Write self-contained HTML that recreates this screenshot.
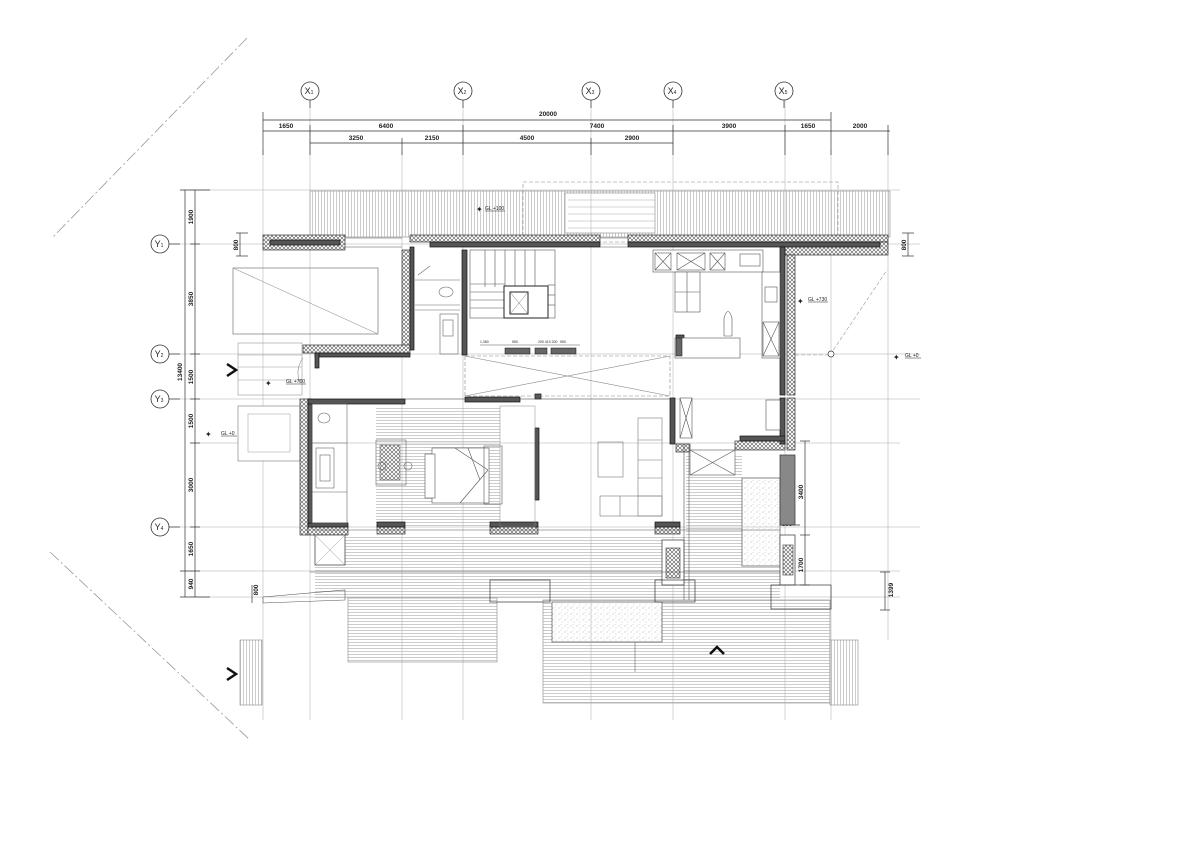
<!DOCTYPE html>
<html><head><meta charset="utf-8"><style>
html,body{margin:0;padding:0;background:#fff;}
svg{display:block;font-family:"Liberation Sans",sans-serif;}
</style></head><body>
<svg width="1191" height="842" viewBox="0 0 1191 842" xmlns="http://www.w3.org/2000/svg">
<defs>
<pattern id="ins" width="4" height="4" patternUnits="userSpaceOnUse"><rect width="4" height="4" fill="#fff"/><path d="M0 0L4 4M4 0L0 4" stroke="#555" stroke-width="0.6"/></pattern>
<pattern id="hs" width="4" height="3" patternUnits="userSpaceOnUse"><rect width="4" height="3" fill="#fff"/><line x1="0" y1="0.5" x2="4" y2="0.5" stroke="#aaa" stroke-width="0.6"/></pattern>
<pattern id="vs" width="3" height="4" patternUnits="userSpaceOnUse"><rect width="3" height="4" fill="#fff"/><line x1="0.5" y1="0" x2="0.5" y2="4" stroke="#aaa" stroke-width="0.6"/></pattern>
<pattern id="sp" width="6" height="6" patternUnits="userSpaceOnUse"><rect width="6" height="6" fill="#fff"/><circle cx="1" cy="2" r="0.5" fill="#999"/><circle cx="4" cy="4" r="0.5" fill="#bbb"/><circle cx="3" cy="0.8" r="0.4" fill="#aaa"/></pattern>
</defs>
<rect width="1191" height="842" fill="#fff"/>

<!-- diagonal site lines -->
<g stroke="#999" stroke-width="0.8" stroke-dasharray="12,3,2,3" fill="none">
<line x1="247" y1="38" x2="52" y2="238"/>
<line x1="50" y1="552" x2="250" y2="740"/>
</g>

<!-- hatched floor areas -->
<rect x="310" y="191" width="580" height="46" fill="url(#vs)"/>
<rect x="565" y="193" width="90" height="40" fill="#fff" stroke="#888" stroke-width="0.6"/>
<g stroke="#aaa" stroke-width="0.6"><line x1="568" y1="200" x2="655" y2="200"/><line x1="568" y1="207" x2="655" y2="207"/><line x1="568" y1="214" x2="655" y2="214"/><line x1="568" y1="221" x2="655" y2="221"/><line x1="568" y1="228" x2="655" y2="228"/></g>
<rect x="310" y="191" width="580" height="46" fill="none" stroke="#888" stroke-width="0.6"/>
<rect x="523" y="182" width="315" height="60" fill="none" stroke="#888" stroke-width="0.6" stroke-dasharray="4,2"/>

<rect x="376" y="406" width="124" height="121" fill="url(#hs)"/>
<rect x="315" y="535" width="465" height="63" fill="url(#hs)"/>
<rect x="686" y="455" width="56" height="80" fill="url(#hs)"/>
<rect x="348" y="598" width="149" height="64" fill="url(#hs)" stroke="#888" stroke-width="0.6"/>
<rect x="543" y="600" width="287" height="103" fill="url(#hs)" stroke="#888" stroke-width="0.6"/>
<rect x="830" y="640" width="28" height="65" fill="url(#vs)" stroke="#888" stroke-width="0.6"/>
<rect x="240" y="640" width="22" height="65" fill="url(#vs)" stroke="#888" stroke-width="0.6"/>
<rect x="742" y="478" width="38" height="88" fill="url(#sp)" stroke="#666" stroke-width="0.8"/>
<rect x="552" y="602" width="110" height="40" fill="url(#sp)" stroke="#666" stroke-width="0.8"/>
<line x1="635" y1="642" x2="635" y2="672" stroke="#666" stroke-width="0.6"/>

<!-- grid lines -->
<g stroke="#aaa" stroke-width="0.5">
<line x1="310" y1="100" x2="310" y2="720"/><line x1="463" y1="100" x2="463" y2="720"/><line x1="591" y1="100" x2="591" y2="720"/><line x1="673" y1="100" x2="673" y2="720"/><line x1="785" y1="100" x2="785" y2="720"/>
<line x1="263" y1="150" x2="263" y2="720"/><line x1="402" y1="150" x2="402" y2="720"/><line x1="831" y1="150" x2="831" y2="720"/><line x1="888" y1="150" x2="888" y2="640"/>
<line x1="170" y1="244" x2="920" y2="244"/><line x1="170" y1="354" x2="920" y2="354"/><line x1="170" y1="399" x2="920" y2="399"/><line x1="170" y1="527" x2="920" y2="527"/>
<line x1="190" y1="190" x2="900" y2="190"/><line x1="190" y1="443" x2="900" y2="443"/><line x1="190" y1="571" x2="900" y2="571"/><line x1="190" y1="597" x2="900" y2="597"/>
</g>

<!-- grid bubbles -->
<g fill="#fff" stroke="#333" stroke-width="0.8" font-size="9" text-anchor="middle">
<circle cx="310" cy="91" r="9"/><circle cx="463" cy="91" r="9"/><circle cx="591" cy="91" r="9"/><circle cx="673" cy="91" r="9"/><circle cx="784" cy="91" r="9"/>
<circle cx="160" cy="244" r="9"/><circle cx="160" cy="354" r="9"/><circle cx="160" cy="399" r="9"/><circle cx="160" cy="527" r="9"/>
</g>
<g font-size="9" fill="#222" text-anchor="middle">
<text x="309" y="94">X<tspan font-size="5">1</tspan></text><text x="462" y="94">X<tspan font-size="5">2</tspan></text><text x="590" y="94">X<tspan font-size="5">3</tspan></text><text x="672" y="94">X<tspan font-size="5">4</tspan></text><text x="783" y="94">X<tspan font-size="5">5</tspan></text>
<text x="159" y="247">Y<tspan font-size="5">1</tspan></text><text x="159" y="357">Y<tspan font-size="5">2</tspan></text><text x="159" y="402">Y<tspan font-size="5">3</tspan></text><text x="159" y="530">Y<tspan font-size="5">4</tspan></text>
</g>
<g stroke="#333" stroke-width="0.7"><line x1="169" y1="244" x2="180" y2="244"/><line x1="169" y1="354" x2="180" y2="354"/><line x1="169" y1="399" x2="180" y2="399"/><line x1="169" y1="527" x2="180" y2="527"/></g>

<!-- top dimensions -->
<g stroke="#333" stroke-width="0.7">
<line x1="263" y1="120" x2="831" y2="120"/>
<line x1="263" y1="131" x2="890" y2="131"/>
<line x1="310" y1="143" x2="673" y2="143"/>
<line x1="263" y1="112" x2="263" y2="155"/><line x1="831" y1="112" x2="831" y2="155"/>
<line x1="310" y1="125" x2="310" y2="155"/><line x1="463" y1="125" x2="463" y2="155"/><line x1="673" y1="125" x2="673" y2="155"/><line x1="785" y1="125" x2="785" y2="155"/><line x1="888" y1="125" x2="888" y2="155"/>
<line x1="402" y1="138" x2="402" y2="155"/><line x1="591" y1="138" x2="591" y2="155"/>
<line x1="310" y1="100" x2="310" y2="108"/><line x1="463" y1="100" x2="463" y2="108"/><line x1="591" y1="100" x2="591" y2="108"/><line x1="673" y1="100" x2="673" y2="108"/><line x1="784" y1="100" x2="784" y2="108"/>
</g>
<g font-size="6.5" fill="#222" text-anchor="middle" font-weight="bold">
<text x="548" y="116">20000</text>
<text x="286" y="128">1650</text><text x="386" y="128">6400</text><text x="597" y="128">7400</text><text x="729" y="128">3900</text><text x="808" y="128">1650</text><text x="860" y="128">2000</text>
<text x="356" y="140">3250</text><text x="432" y="140">2150</text><text x="527" y="140">4500</text><text x="632" y="140">2900</text>
</g>

<!-- left dimensions -->
<g stroke="#333" stroke-width="0.7">
<line x1="185" y1="190" x2="185" y2="597"/><line x1="195" y1="190" x2="195" y2="597"/>
<line x1="180" y1="190" x2="210" y2="190"/><line x1="180" y1="597" x2="210" y2="597"/>
<line x1="190" y1="244" x2="200" y2="244"/><line x1="190" y1="354" x2="200" y2="354"/><line x1="190" y1="399" x2="200" y2="399"/><line x1="190" y1="443" x2="200" y2="443"/><line x1="190" y1="527" x2="200" y2="527"/><line x1="180" y1="571" x2="200" y2="571"/>
<line x1="240" y1="233" x2="240" y2="256"/><line x1="236" y1="233" x2="248" y2="233"/><line x1="236" y1="256" x2="248" y2="256"/>
<line x1="252" y1="585" x2="252" y2="603"/>
</g>
<g font-size="6.5" fill="#222" text-anchor="middle" font-weight="bold">
<text transform="translate(193,217) rotate(-90)">1900</text>
<text transform="translate(193,299) rotate(-90)">3850</text>
<text transform="translate(193,377) rotate(-90)">1500</text>
<text transform="translate(193,421) rotate(-90)">1500</text>
<text transform="translate(193,485) rotate(-90)">3000</text>
<text transform="translate(193,549) rotate(-90)">1650</text>
<text transform="translate(193,584) rotate(-90)">940</text>
<text transform="translate(182,372) rotate(-90)">13400</text>
<text transform="translate(238,245) rotate(-90)">800</text>
<text transform="translate(258,590) rotate(-90)">800</text>
</g>

<!-- right dimensions -->
<g stroke="#333" stroke-width="0.7">
<line x1="908" y1="233" x2="908" y2="256"/><line x1="902" y1="233" x2="914" y2="233"/><line x1="902" y1="256" x2="914" y2="256"/>
<line x1="805" y1="441" x2="805" y2="585"/><line x1="800" y1="441" x2="810" y2="441"/><line x1="800" y1="535" x2="810" y2="535"/><line x1="800" y1="585" x2="810" y2="585"/>
<line x1="780" y1="525" x2="800" y2="525"/>
<line x1="885" y1="572" x2="885" y2="610"/><line x1="880" y1="572" x2="890" y2="572"/><line x1="880" y1="610" x2="890" y2="610"/>
</g>
<g font-size="6.5" fill="#222" text-anchor="middle" font-weight="bold">
<text transform="translate(906,245) rotate(-90)">800</text>
<text transform="translate(803,492) rotate(-90)">3400</text>
<text x="787" y="526">600</text>
<text transform="translate(803,565) rotate(-90)">1700</text>
<text transform="translate(893,590) rotate(-90)">1399</text>
</g>

<!-- left-side exterior elements -->
<rect x="233" y="268" width="145" height="66" fill="none" stroke="#777" stroke-width="0.7"/>
<line x1="233" y1="268" x2="378" y2="334" stroke="#999" stroke-width="0.6"/>
<g stroke="#999" stroke-width="0.6"><rect x="238" y="343" width="64" height="52" fill="none"/><line x1="238" y1="355" x2="302" y2="355"/><line x1="238" y1="367" x2="302" y2="367"/><line x1="238" y1="380" x2="302" y2="380"/></g>
<rect x="238" y="406" width="62" height="55" fill="#fff" stroke="#888" stroke-width="0.7"/>
<rect x="248" y="414" width="42" height="38" fill="none" stroke="#aaa" stroke-width="0.6"/>
<path d="M300 383 A 25 25 0 0 1 303 358" fill="none" stroke="#888" stroke-width="0.6"/>
<path d="M227 364 L236 370 L227 376" fill="none" stroke="#111" stroke-width="2.5"/>
<path d="M227 668 L236 674 L227 680" fill="none" stroke="#111" stroke-width="2.5"/>
<path d="M710 654 L717 647 L724 654" fill="none" stroke="#111" stroke-width="2.5"/>

<!-- level marks -->
<g font-size="5" fill="#222">
<text x="485" y="210">GL +100</text><line x1="485" y1="211" x2="505" y2="211" stroke="#222" stroke-width="0.5"/><text x="476" y="212" font-size="8">✦</text>
<text x="286" y="383">GL +700</text><line x1="286" y1="384" x2="306" y2="384" stroke="#222" stroke-width="0.5"/><text x="265" y="386" font-size="8">✦</text>
<text x="221" y="435">GL +0</text><line x1="221" y1="436" x2="237" y2="436" stroke="#222" stroke-width="0.5"/><text x="205" y="437" font-size="8">✦</text>
<text x="808" y="301">GL +730</text><line x1="808" y1="302" x2="828" y2="302" stroke="#222" stroke-width="0.5"/><text x="797" y="304" font-size="8">✦</text>
<text x="905" y="357">GL +0</text><line x1="905" y1="358" x2="921" y2="358" stroke="#222" stroke-width="0.5"/><text x="893" y="360" font-size="8">✦</text>
</g>
<path d="M830 355 L887 270" stroke="#999" stroke-width="0.6" stroke-dasharray="4,2" fill="none"/>
<line x1="795" y1="355" x2="830" y2="355" stroke="#999" stroke-width="0.6" stroke-dasharray="4,2"/>
<circle cx="831" cy="354" r="3" fill="#fff" stroke="#333" stroke-width="0.7"/>

<!-- walls: insulation bands -->
<g stroke="#333" stroke-width="0.7" fill="url(#ins)">
<rect x="263" y="235" width="82" height="15"/>
<rect x="410" y="235" width="190" height="7"/>
<rect x="628" y="235" width="260" height="7"/>
<rect x="785" y="242" width="103" height="13"/>
<rect x="402" y="250" width="8" height="100"/>
<rect x="303" y="345" width="107" height="8"/>
<rect x="300" y="399" width="8" height="136"/>
<rect x="308" y="527" width="40" height="8"/>
<rect x="377" y="527" width="28" height="7"/>
<rect x="490" y="527" width="48" height="7"/>
<rect x="655" y="527" width="25" height="7"/>
<rect x="787" y="255" width="8" height="140"/>
<rect x="787" y="398" width="8" height="52"/>
<rect x="735" y="441" width="50" height="9"/>
<rect x="676" y="444" width="14" height="8"/>
</g>
<!-- dark wall cores -->
<g fill="#555" stroke="#111" stroke-width="0.7">
<rect x="270" y="240" width="70" height="5"/>
<rect x="430" y="242" width="170" height="5"/>
<rect x="628" y="242" width="252" height="5"/>
<rect x="410" y="247" width="4" height="103"/>
<rect x="315" y="353" width="95" height="4"/>
<rect x="315" y="353" width="4" height="15"/>
<rect x="462" y="250" width="5" height="105"/>
<rect x="308" y="399" width="4" height="128"/>
<rect x="308" y="399" width="97" height="5"/>
<rect x="308" y="523" width="40" height="4"/>
<rect x="377" y="522" width="28" height="5"/>
<rect x="490" y="522" width="48" height="5"/>
<rect x="655" y="522" width="25" height="5"/>
<rect x="465" y="397" width="55" height="5"/>
<rect x="535" y="428" width="4" height="72"/>
<rect x="780" y="247" width="5" height="148"/>
<rect x="780" y="398" width="5" height="46"/>
<rect x="740" y="436" width="45" height="5"/>
<rect x="670" y="398" width="5" height="46"/>
<rect x="676" y="335" width="8" height="20"/>
<rect x="535" y="394" width="6" height="5"/>
</g>
<rect x="780" y="455" width="15" height="70" fill="#888" stroke="#333" stroke-width="0.7"/>
<rect x="780" y="535" width="15" height="50" fill="#fff" stroke="#333" stroke-width="0.7"/>
<rect x="783" y="545" width="10" height="30" fill="url(#ins)" stroke="#333" stroke-width="0.6"/>
<rect x="662" y="540" width="22" height="45" fill="#fff" stroke="#333" stroke-width="0.7"/>
<rect x="666" y="548" width="14" height="30" fill="url(#ins)" stroke="#333" stroke-width="0.6"/>
<rect x="771" y="585" width="60" height="24" fill="none" stroke="#333" stroke-width="0.7"/>
<rect x="655" y="580" width="40" height="22" fill="none" stroke="#333" stroke-width="0.7"/>
<rect x="490" y="580" width="60" height="22" fill="none" stroke="#333" stroke-width="0.7"/>
<rect x="315" y="535" width="30" height="30" fill="#fff" stroke="#333" stroke-width="0.7"/>
<path d="M315 535 L345 565 M345 535 L315 565" stroke="#999" stroke-width="0.5"/>
<path d="M263 597 L345 590 L345 600 L263 603 Z" fill="none" stroke="#555" stroke-width="0.6"/>

<!-- stair -->
<g stroke="#555" stroke-width="0.6" fill="none">
<rect x="470" y="250" width="85" height="68"/>
<line x1="470" y1="284" x2="505" y2="284"/><line x1="470" y1="292" x2="505" y2="292"/><line x1="470" y1="300" x2="505" y2="300"/><line x1="470" y1="308" x2="505" y2="308"/>
<line x1="485" y1="250" x2="485" y2="287"/><line x1="495" y1="250" x2="495" y2="287"/><line x1="505" y1="250" x2="505" y2="287"/><line x1="515" y1="250" x2="515" y2="287"/><line x1="525" y1="250" x2="525" y2="287"/><line x1="535" y1="250" x2="535" y2="287"/>
<line x1="548" y1="285" x2="555" y2="285"/><line x1="548" y1="295" x2="555" y2="295"/><line x1="548" y1="305" x2="555" y2="305"/>
</g>
<rect x="504" y="286" width="44" height="32" fill="#fff" stroke="#222" stroke-width="1"/>
<rect x="510" y="292" width="18" height="22" fill="none" stroke="#222" stroke-width="1"/>
<path d="M510 292 L528 314 M528 292 L510 314" stroke="#777" stroke-width="0.5"/>
<g fill="#666" stroke="#111" stroke-width="0.5"><rect x="505" y="348" width="25" height="6"/><rect x="535" y="348" width="12" height="6"/><rect x="551" y="348" width="25" height="6"/></g>
<g font-size="3.5" fill="#222"><text x="480" y="343">1,360</text><text x="512" y="343">550</text><text x="538" y="343">200 410 200</text><text x="560" y="343">550</text></g>
<line x1="480" y1="345" x2="580" y2="345" stroke="#555" stroke-width="0.5"/>

<!-- living void X -->
<rect x="465" y="356" width="205" height="40" fill="none" stroke="#888" stroke-width="0.6" stroke-dasharray="4,2"/>
<path d="M465 356 L670 396 M465 396 L670 356" stroke="#888" stroke-width="0.6"/>

<!-- WC left wing -->
<g stroke="#666" stroke-width="0.6" fill="none">
<line x1="415" y1="280" x2="460" y2="280"/><line x1="415" y1="305" x2="460" y2="305"/><line x1="415" y1="310" x2="460" y2="310"/>
<ellipse cx="446" cy="292" rx="7" ry="5"/>
<rect x="440" y="314" width="18" height="40"/><rect x="443" y="320" width="10" height="16"/>
<path d="M418 275 L430 266"/>
</g>
<!-- lower bathroom -->
<g stroke="#666" stroke-width="0.6" fill="none">
<rect x="312" y="404" width="35" height="119"/>
<line x1="312" y1="443" x2="347" y2="443"/><line x1="312" y1="492" x2="347" y2="492"/>
<ellipse cx="324" cy="418" rx="6" ry="5"/>
<rect x="316" y="448" width="18" height="40"/><rect x="320" y="455" width="10" height="26"/>
<rect x="376" y="440" width="30" height="45"/><rect x="380" y="445" width="20" height="35" fill="url(#ins)"/>
<circle cx="382" cy="466" r="4"/><circle cx="408" cy="466" r="4"/>
</g>
<!-- bed -->
<g stroke="#555" stroke-width="0.6" fill="#fff">
<rect x="432" y="448" width="57" height="55"/>
<rect x="425" y="454" width="10" height="44"/>
<path d="M455 448 L488 470 M460 503 L488 470 M468 448 L480 480" fill="none"/>
<rect x="484" y="446" width="18" height="58" fill="none"/>
</g>
<rect x="500" y="406" width="35" height="121" fill="none" stroke="#888" stroke-width="0.5"/>
<!-- living furniture -->
<g stroke="#777" stroke-width="0.6" fill="none">
<rect x="598" y="442" width="25" height="35"/>
<rect x="638" y="418" width="24" height="98"/>
<line x1="638" y1="440" x2="662" y2="440"/><line x1="638" y1="460" x2="662" y2="460"/><line x1="638" y1="478" x2="662" y2="478"/><line x1="638" y1="496" x2="662" y2="496"/>
<rect x="600" y="496" width="62" height="20"/><line x1="620" y1="496" x2="620" y2="516"/>
</g>
<!-- kitchen -->
<g stroke="#555" stroke-width="0.6" fill="#fff">
<rect x="653" y="250" width="110" height="22"/>
<rect x="655" y="253" width="16" height="17"/><path d="M655 253 L671 270 M671 253 L655 270" fill="none"/>
<rect x="677" y="253" width="28" height="17"/><path d="M677 253 L705 270 M705 253 L677 270" fill="none"/>
<rect x="710" y="253" width="15" height="17"/><path d="M710 253 L725 270 M725 253 L710 270" fill="none"/>
<rect x="740" y="254" width="20" height="12"/>
<rect x="762" y="272" width="18" height="86"/>
<rect x="765" y="287" width="12" height="15"/>
<rect x="763" y="322" width="16" height="34"/><path d="M763 322 L779 356 M779 322 L763 356" fill="none"/>
<rect x="675" y="272" width="25" height="40"/><line x1="687" y1="272" x2="687" y2="312"/><line x1="675" y1="292" x2="700" y2="292"/>
<rect x="675" y="338" width="65" height="20"/>
<path d="M724 336 L724 318 Q728 305 732 318 L732 336 Z"/>
<rect x="680" y="398" width="12" height="40"/><path d="M680 398 L692 438 M692 398 L680 438" fill="none"/>
<rect x="766" y="400" width="14" height="30"/>
<rect x="690" y="450" width="45" height="25"/><path d="M690 450 L735 475 M735 450 L690 475" fill="none"/>
</g>
<rect x="676" y="338" width="6" height="18" fill="#666" stroke="#111" stroke-width="0.5"/>

<!-- windows (thin lines in openings) -->
<g stroke="#555" stroke-width="0.6">
<line x1="345" y1="238" x2="402" y2="238"/><line x1="345" y1="247" x2="402" y2="247"/>
<line x1="600" y1="238" x2="628" y2="238"/><line x1="600" y1="247" x2="628" y2="247"/>
<line x1="405" y1="399" x2="465" y2="399"/><line x1="520" y1="399" x2="670" y2="399"/>
<line x1="312" y1="530" x2="780" y2="530"/>
<line x1="310" y1="572" x2="780" y2="572"/>
<line x1="684" y1="445" x2="684" y2="600"/><line x1="689" y1="445" x2="689" y2="600"/>
</g>
</svg>
</body></html>
